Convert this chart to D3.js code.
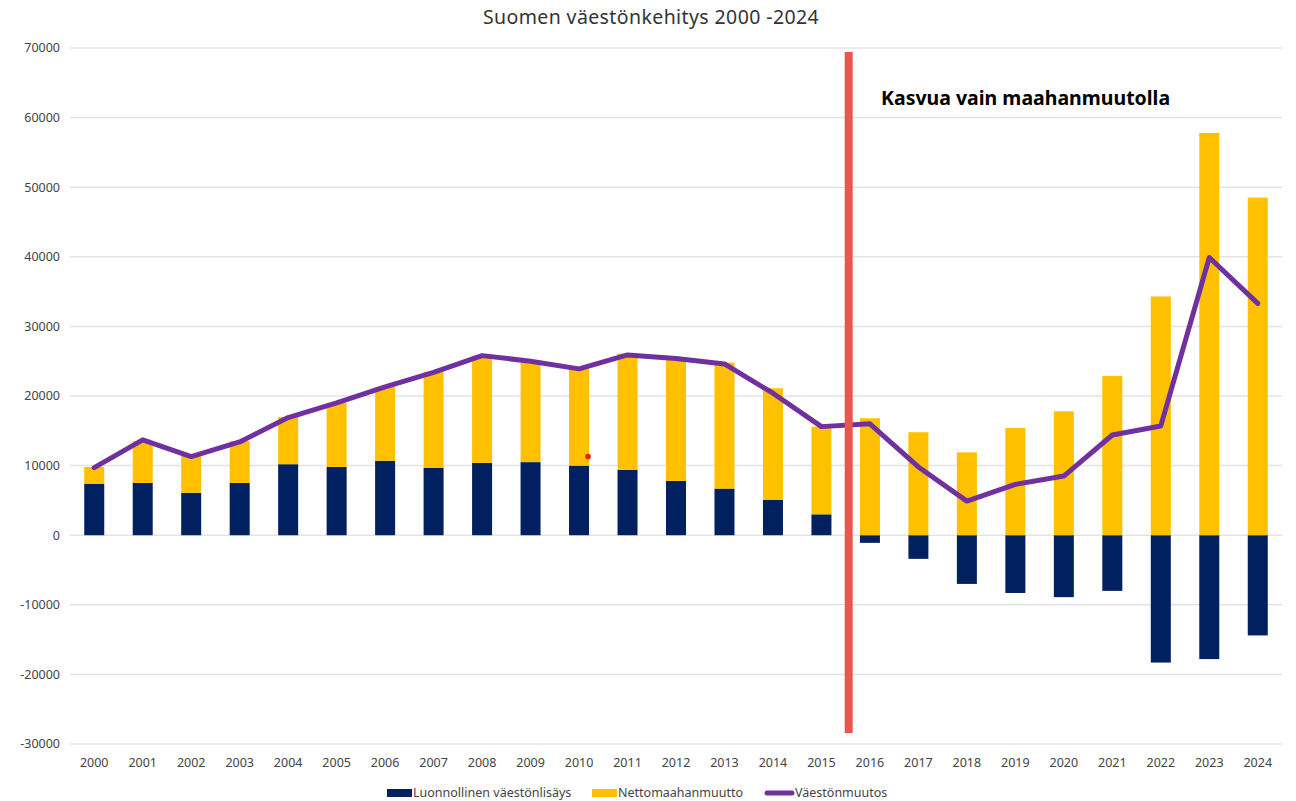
<!DOCTYPE html>
<html><head><meta charset="utf-8">
<script src="https://cdn.jsdelivr.net/npm/d3@7"></script>
<style>
body{margin:0;background:#fff;}
text{font-family:"Noto Sans","Open Sans",sans-serif;}
</style></head>
<body><svg id="c" width="1296" height="801"></svg>
<script>
const years = ["2000","2001","2002","2003","2004","2005","2006","2007","2008","2009","2010","2011","2012","2013","2014","2015","2016","2017","2018","2019","2020","2021","2022","2023","2024"];
const natural = [7400,7500,6100,7500,10200,9800,10700,9700,10400,10500,10000,9400,7800,6700,5100,3000,-1100,-3400,-7000,-8300,-8900,-8000,-18300,-17800,-14400];
const migration = [2400,6000,5400,6000,6800,9200,10600,13800,15400,14400,14000,16700,17600,18100,16000,12600,16800,14800,11900,15400,17800,22900,34300,57800,48500];
const change = [9700,13700,11300,13400,16900,19000,21300,23400,25800,25000,23900,25900,25400,24600,20400,15600,16000,9800,4900,7300,8500,14400,15700,39900,33300];
const yTicks = [-30000,-20000,-10000,0,10000,20000,30000,40000,50000,60000,70000];
const seriesNames = ["Luonnollinen väestönlisäys","Nettomaahanmuutto","Väestönmuutos"];
const colors = ["#002060","#FFC000","#7030A0"];
const title = "Suomen väestönkehitys 2000 -2024";
const annotation = "Kasvua vain maahanmuutolla";

const svg = d3.select("#c");
const L = 70, R = 1282, T = 48, B = 744;
const x = d3.scaleBand().domain(years).range([L, R]);
const y = d3.scaleLinear().domain([-30000, 70000]).range([B, T]);
const bw = 20;

// gridlines
svg.append("g").selectAll("line").data(yTicks).join("line")
  .attr("x1", L).attr("x2", R).attr("y1", d => y(d)).attr("y2", d => y(d))
  .attr("stroke", "#e3e3e3").attr("stroke-width", 1.5);

// y labels
svg.append("g").selectAll("text").data(yTicks).join("text")
  .attr("x", 60).attr("y", d => y(d)).attr("dy", "0.35em").attr("text-anchor", "end")
  .attr("font-size", 12.5).attr("fill", "#444").text(d => d);

// x labels
svg.append("g").selectAll("text").data(years).join("text")
  .attr("x", d => x(d) + x.bandwidth() / 2).attr("y", 767).attr("text-anchor", "middle")
  .attr("font-size", 12.5).attr("fill", "#444").text(d => d);

// natural bars
svg.append("g").selectAll("rect").data(years).join("rect")
  .attr("x", d => x(d) + x.bandwidth() / 2 - bw / 2).attr("width", bw)
  .attr("y", (d, i) => y(Math.max(0, natural[i])))
  .attr("height", (d, i) => Math.abs(y(natural[i]) - y(0)))
  .attr("fill", colors[0]);

// migration bars stacked on positive side
svg.append("g").selectAll("rect").data(years).join("rect")
  .attr("x", d => x(d) + x.bandwidth() / 2 - bw / 2).attr("width", bw)
  .attr("y", (d, i) => y(Math.max(0, natural[i]) + migration[i]))
  .attr("height", (d, i) => y(Math.max(0, natural[i])) - y(Math.max(0, natural[i]) + migration[i]))
  .attr("fill", colors[1]);

// line
const line = d3.line().x((d, i) => x(years[i]) + x.bandwidth() / 2).y(d => y(d));
svg.append("path").datum(change).attr("d", line).attr("fill", "none")
  .attr("stroke", colors[2]).attr("stroke-width", 5).attr("stroke-linejoin", "round").attr("stroke-linecap", "round");

// red vertical line between 2015 and 2016
const xr = x("2016") + 3;
svg.append("line").attr("x1", xr).attr("x2", xr).attr("y1", 52).attr("y2", 733)
  .attr("stroke", "#E8574F").attr("stroke-width", 8);

// red dot
svg.append("circle").attr("cx", x("2010") + x.bandwidth() / 2 + 9).attr("cy", y(11300)).attr("r", 2.8).attr("fill", "#ee1c1c");

// annotation
svg.append("text").attr("x", 881).attr("y", 105).attr("font-size", 19.5).attr("font-weight", "bold")
  .attr("fill", "#000").text(annotation);

// title
svg.append("text").attr("x", 651).attr("y", 24).attr("text-anchor", "middle").attr("font-size", 19.5)
  .attr("letter-spacing", 0.4).attr("fill", "#333").text(title);

// legend
const lg = svg.append("g");
const lx = [387, 592, 765];
lg.append("rect").attr("x", lx[0]).attr("y", 789).attr("width", 25).attr("height", 8).attr("fill", colors[0]);
lg.append("rect").attr("x", lx[1]).attr("y", 789).attr("width", 25).attr("height", 8).attr("fill", colors[1]);
lg.append("line").attr("x1", lx[2] + 2).attr("x2", lx[2] + 27).attr("y1", 793).attr("y2", 793)
  .attr("stroke", colors[2]).attr("stroke-width", 5).attr("stroke-linecap", "round");
lg.selectAll("text").data(seriesNames).join("text")
  .attr("x", (d, i) => lx[i] + (i === 2 ? 30 : 26)).attr("y", 793).attr("dy", "0.35em")
  .attr("font-size", 12.5).attr("fill", "#444").text(d => d);
</script></body></html>
